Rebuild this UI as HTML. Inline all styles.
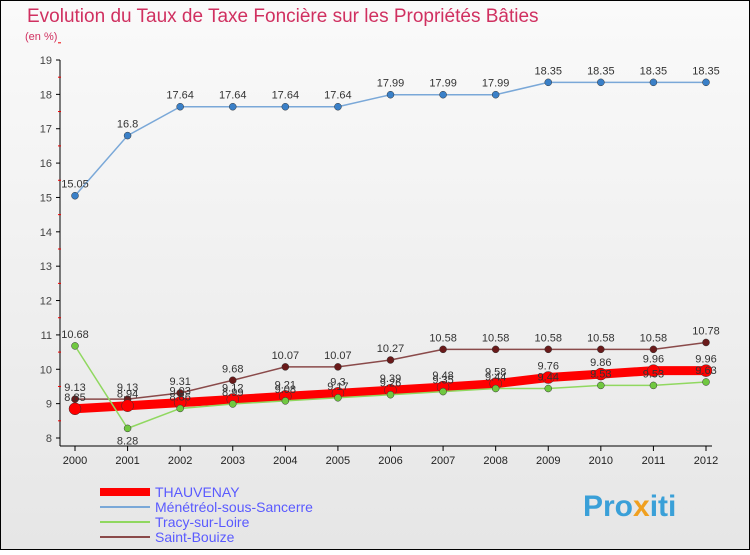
<!DOCTYPE html>
<html><head><meta charset="utf-8"><style>
html,body{margin:0;padding:0;}
body{width:750px;height:550px;overflow:hidden;font-family:"Liberation Sans",sans-serif;}
svg text{font-family:"Liberation Sans",sans-serif;}
</style></head><body>
<svg width="750" height="550" viewBox="0 0 750 550">
<defs><linearGradient id="bg" x1="0" y1="0" x2="0" y2="1"><stop offset="0" stop-color="#fafafa"/><stop offset="1" stop-color="#e6e6e6"/></linearGradient></defs>
<rect x="0.5" y="0.5" width="749" height="549" fill="url(#bg)" stroke="#000"/>
<text x="27" y="22" font-size="19" fill="#d03060">Evolution du Taux de Taxe Foncière sur les Propriétés Bâties</text>
<text x="25" y="40" font-size="11" fill="#d03060">(en %)</text>
<g id="axes"></g>
<g id="series"></g>
<g id="legend"></g>
<text x="583" y="516" font-size="30" font-weight="bold" fill="#3aa0d8">Pro<tspan fill="#f0a020">x</tspan>iti</text>
</svg>
<script>
const years=[2000,2001,2002,2003,2004,2005,2006,2007,2008,2009,2010,2011,2012];
const yTicks=[8,9,10,11,12,13,14,15,16,17,18,19];
const thauvenay=[8.85,8.94,9.03,9.12,9.21,9.3,9.39,9.48,9.58,9.76,9.86,9.96,9.96];
const menetreol=[15.05,16.8,17.64,17.64,17.64,17.64,17.99,17.99,17.99,18.35,18.35,18.35,18.35];
const tracy=[10.68,8.28,8.86,8.99,9.08,9.17,9.26,9.35,9.44,9.44,9.53,9.53,9.63];
const bouize=[9.13,9.13,9.31,9.68,10.07,10.07,10.27,10.58,10.58,10.58,10.58,10.58,10.78];
const NS='http://www.w3.org/2000/svg';
const x=i=>75+i*(706-75)/(years.length-1);
const y=v=>438-(v-8)*(438-60)/11;
function mk(t,a,p){const e=document.createElementNS(NS,t);for(const k in a)e.setAttribute(k,a[k]);p.appendChild(e);return e;}
const ax=document.getElementById('axes');
const yl=mk('line',{x1:60,y1:y(19),x2:60,y2:y(8)+8,stroke:'#000'},ax);


const xl=mk('line',{x1:60,y1:446,x2:712,y2:446,stroke:'#000'},ax);


yTicks.forEach(v=>{
 mk('line',{x1:56,y1:y(v),x2:60,y2:y(v),stroke:'#000'},ax);
 mk('line',{x1:58,y1:y(v+0.5),x2:61,y2:y(v+0.5),stroke:'#e00'},ax);
 const t=mk('text',{x:52,y:y(v)+4,'font-size':11,'text-anchor':'end',fill:'#444'},ax);t.textContent=v;
 
 
});
years.forEach((yr,i)=>{
 mk('line',{x1:x(i),y1:446,x2:x(i),y2:451,stroke:'#000'},ax);
 const t=mk('text',{x:x(i),y:464,'font-size':11,'text-anchor':'middle',fill:'#222'},ax);t.textContent=yr;
 
 
});
const sg=document.getElementById('series');
function series(vals,color,w,r,name,dot){
 const g=mk('g',{},sg);
 
 
 mk('polyline',{points:vals.map((v,i)=>x(i)+','+y(v)).join(' '),fill:'none',stroke:color,'stroke-width':w,'stroke-linejoin':'round'},g);
 vals.forEach((v,i)=>{
  const c=mk('circle',{cx:x(i),cy:y(v),r:r,fill:dot,stroke:'#333','stroke-width':0.5},g);
  
  
  const below=(i>0 && vals[i-1]>v+1);
  const t=mk('text',{x:x(i),y:below?y(v)+16:y(v)-8,'font-size':11,'text-anchor':'middle',fill:'#333'},g);
  t.textContent=v;
 });
}
series(menetreol,'#7aa8d8',1.5,3.5,'series-menetreol','#3a80c8');
series(bouize,'#8a4a4a',1.5,3.5,'series-saint-bouize','#6a1a1a');
series(thauvenay,'#ff0000',9,6,'series-thauvenay','#ff0000');
series(tracy,'#90d860',1.5,3.5,'series-tracy','#70c840');
const lg=document.getElementById('legend');
[['THAUVENAY','#ff0000',8],['Ménétréol-sous-Sancerre','#7aa8d8',2],['Tracy-sur-Loire','#90d860',2],['Saint-Bouize','#8a4a4a',2]].forEach((e,i)=>{
 const g=mk('g',{},lg);
 
 
 const yy=492+i*15;
 mk('line',{x1:100,y1:yy,x2:150,y2:yy,stroke:e[1],'stroke-width':e[2]},g);
 const t=mk('text',{x:155,y:yy+5,'font-size':14,fill:'#5a5aff'},g);t.textContent=e[0];
});
</script>
</body></html>
